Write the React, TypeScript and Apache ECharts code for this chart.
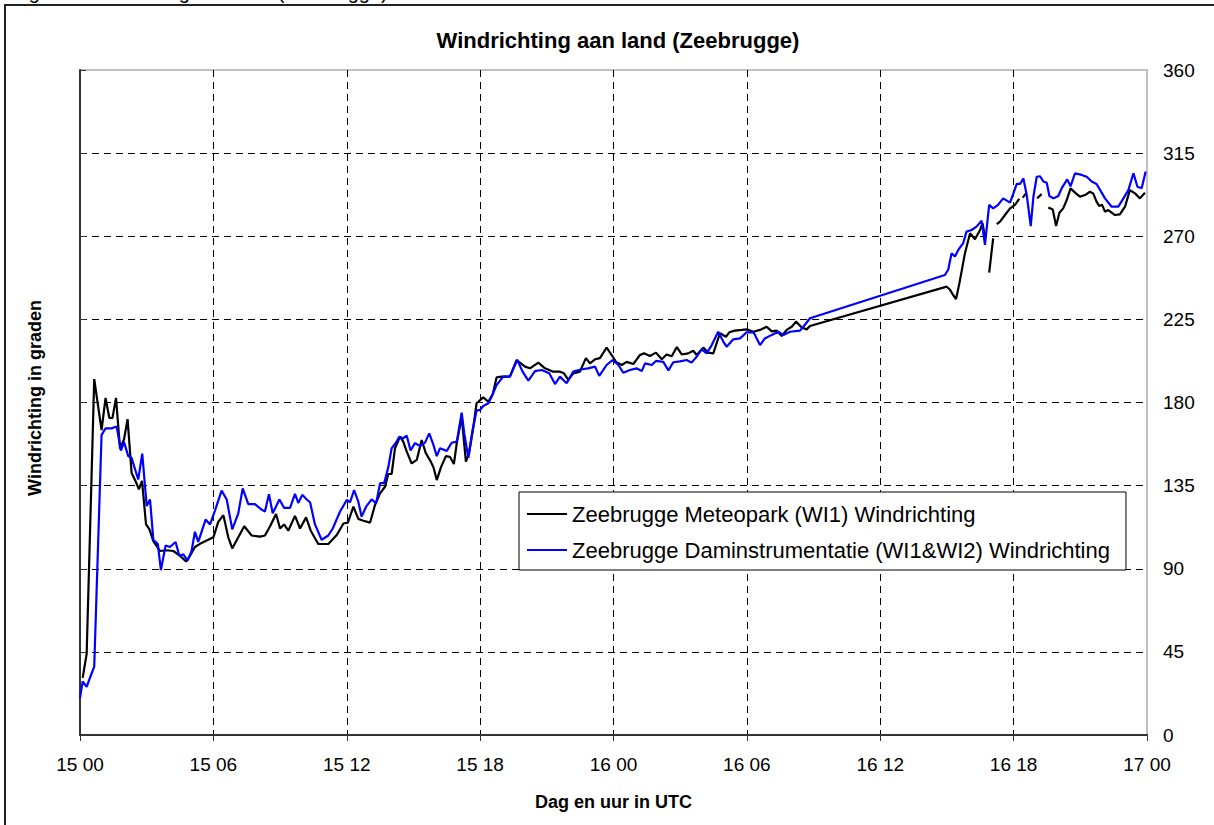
import React, { useEffect, useRef } from "react";
import * as echarts from "echarts";

const titleText = "Windrichting aan land (Zeebrugge)";
const captionText = "Figuur: Windrichting aan land (Zeebrugge)";
const xAxisName = "Dag en uur in UTC";
const yAxisName = "Windrichting in graden";
const xTickLabels = ["15 00", "15 06", "15 12", "15 18", "16 00", "16 06", "16 12", "16 18", "17 00"];
const seriesNames = [
  "Zeebrugge Meteopark (WI1) Windrichting",
  "Zeebrugge Daminstrumentatie (WI1&WI2) Windrichting",
];

// hours since 15 00 UTC
const meteoHours = [
  0.12, 0.3, 0.64, 0.97, 1.15, 1.32, 1.46, 1.62, 1.8, 1.98, 2.14, 2.32, 2.55, 2.65, 2.79, 2.97, 3.12, 3.3, 3.6, 3.9,
  4.2, 4.5, 4.77, 4.95, 5.17, 5.47, 5.77, 6.0, 6.22, 6.45, 6.67, 6.85, 7.12, 7.39, 7.72, 8.1, 8.32, 8.55, 8.82, 9.0,
  9.18, 9.37, 9.67, 9.9, 10.17, 10.38, 10.72, 11.17, 11.55, 11.85, 12.05, 12.3, 12.52, 12.75, 13.05, 13.27, 13.5, 13.72, 13.87, 14.02,
  14.17, 14.4, 14.54, 14.7, 14.92, 15.15, 15.37, 15.56, 15.78, 15.9, 16.05, 16.24, 16.46, 16.64, 16.82, 16.95, 17.17, 17.36, 17.5, 17.7,
  17.84, 18.14, 18.37, 18.57, 18.74, 18.97, 19.34, 19.64, 20.02, 20.24, 20.62, 20.92, 21.29, 21.59, 21.77, 21.97, 22.19, 22.49, 22.76, 22.94,
  23.17, 23.39, 23.69, 23.92, 24.11, 24.37, 24.59, 24.89, 25.19, 25.37, 25.64, 25.91, 26.17, 26.39, 26.62, 26.85, 27.07, 27.36, 27.59, 27.74,
  28.04, 28.26, 28.49, 28.79, 29.06, 29.21, 29.46, 29.77, 29.99, 30.29, 30.59, 30.89, 31.12, 31.34, 31.57, 31.79, 32.02, 32.21, 32.47, 32.69,
  32.84, 38.99, 39.14, 39.28, 39.41, 39.56, 39.81, 40.04, 40.26, 40.49, 40.6, 40.72, 40.8, 40.9, 41.08, 41.16, 41.24, 41.39, 41.61, 41.84,
  42.06, 42.25, 42.33, 42.41, 42.56, 42.8, 43.06, 43.26, 43.4, 43.56, 43.76, 43.91, 44.06, 44.23, 44.39, 44.56, 44.76, 44.98, 45.21, 45.43,
  45.58, 45.73, 45.85, 45.98, 46.11, 46.26, 46.56, 46.78, 47.01, 47.23, 47.46, 47.68, 47.91,
];
const meteoValues: (number | null)[] = [
  30.9, 44, 192.7, 165, 182.5, 171.6, 171.6, 182.5, 155, 160, 171, 142, 136, 133, 137.6, 114, 111.5, 105, 99.6, 100,
  99.6, 97, 93.9, 97, 101.8, 104, 105.7, 107, 115.4, 119, 107, 101, 107, 113, 108, 107.4, 108, 113, 119.6, 111.8,
  114, 110.6, 118.6, 111.8, 117.8, 110.6, 103.4, 103.4, 108.3, 114.5, 115, 123.6, 117, 116, 115, 124.5, 130.8, 134.4, 141.3, 141.3,
  155.2, 161.5, 158.8, 153.4, 147, 148.9, 159.7, 152.5, 148, 145, 138, 145, 151, 150.6, 146.7, 158, 172.3, 148, 152.5, 167,
  179.6, 182.8, 180.4, 184.6, 193.6, 194, 194, 203, 199.4, 198.5, 201.6, 198.5, 196.7, 196.7, 195.8, 192.2, 195.8, 196.7, 204, 201.2,
  203.4, 204, 209.7, 205.7, 202, 200.3, 202, 200.8, 205.7, 206.6, 205.2, 207, 203.4, 206, 205, 210, 206, 206.6, 208, 205.7,
  209.7, 207, 206.6, 217.5, 215.6, 218, 218.9, 219.3, 219.6, 218.3, 219.3, 221, 218.5, 218.9, 216, 219.3, 221, 223.8, 220.6, 219.6,
  221.4, 242.7, 241, 238.2, 236, 244.5, 260.8, 271.6, 268.4, 273.4, 277, 269, null, 250.3, 268.9, null, 276.6, 277.9, 281.5, 285.1,
  287, 290.2, null, 290.9, 293.2, null, 290.5, 292.9, null, 285.6, 284.5, 275.5, 282.7, 285.1, 289.6, 295.9, 293.6, 291.4, 292.3, 294.1,
  293.2, 288.7, 286.4, 287, 283.3, 284.2, 281.5, 281.8, 286, 295, 293.2, 290.5, 293.6,
];

const damHours = [
  0, 0.12, 0.3, 0.45, 0.64, 0.97, 1.15, 1.42, 1.65, 1.84, 1.98, 2.17, 2.32, 2.62, 2.8, 3.0, 3.15, 3.3, 3.5, 3.64,
  3.85, 4.05, 4.3, 4.47, 4.65, 4.84, 5.02, 5.17, 5.32, 5.65, 5.85, 6.07, 6.37, 6.6, 6.85, 7.12, 7.32, 7.57, 7.87, 8.17,
  8.32, 8.5, 8.67, 8.97, 9.18, 9.45, 9.67, 9.82, 10.0, 10.2, 10.35, 10.57, 10.87, 11.17, 11.37, 11.7, 12.0, 12.15, 12.33, 12.52,
  12.67, 12.87, 13.12, 13.32, 13.5, 13.68, 13.87, 14.02, 14.24, 14.36, 14.52, 14.7, 14.87, 15.07, 15.3, 15.52, 15.71, 15.9, 16.05, 16.19,
  16.5, 16.72, 16.95, 17.17, 17.29, 17.47, 17.66, 17.84, 18.0, 18.14, 18.37, 18.52, 18.74, 19.04, 19.34, 19.67, 19.91, 20.17, 20.47, 20.77,
  21.11, 21.37, 21.59, 21.89, 22.19, 22.57, 22.86, 23.17, 23.36, 23.69, 23.96, 24.22, 24.44, 24.74, 25.04, 25.27, 25.42, 25.72, 25.91, 26.24,
  26.47, 26.69, 26.99, 27.29, 27.51, 27.74, 27.97, 28.19, 28.42, 28.71, 28.94, 29.09, 29.39, 29.69, 29.99, 30.3, 30.59, 30.81, 31.12, 31.41,
  31.64, 31.94, 32.39, 32.54, 32.84, 38.91, 39.06, 39.21, 39.36, 39.51, 39.73, 39.88, 40.11, 40.33, 40.56, 40.71, 40.9, 41.08, 41.3, 41.53,
  41.84, 41.99, 42.14, 42.29, 42.44, 42.59, 42.77, 42.89, 43.04, 43.19, 43.34, 43.49, 43.61, 43.79, 44.01, 44.16, 44.41, 44.56, 44.76, 45.06,
  45.29, 45.51, 45.73, 45.96, 46.11, 46.41, 46.71, 46.94, 47.16, 47.39, 47.57, 47.76, 47.94,
];
const damValues = [
  20, 29, 26, 31, 37, 162.5, 166, 166, 167, 154, 158.6, 151, 150, 138.3, 152.3, 124, 127.5, 105.7, 103.4, 89.3,
  102.6, 101.8, 104.5, 97, 97.8, 94.4, 99.6, 110, 104.5, 116.6, 114, 121.4, 132.3, 127.5, 111.3, 120, 133.5, 125, 125, 122,
  121, 130.4, 120, 127.5, 123, 123, 130.5, 125.6, 130, 127.5, 126, 114, 105.7, 108, 111.8, 121, 127.2, 126, 132.6, 126.3,
  118.2, 123.6, 127.6, 125.4, 136.3, 136.3, 145, 155.2, 158.8, 161.5, 160.5, 162, 154, 158, 156.5, 158.3, 163.3, 157, 151, 155.2,
  153.8, 158.2, 158.8, 174.5, 163, 150.1, 165, 175.6, 176, 178.1, 179.6, 183.2, 189.5, 194, 194, 203, 196.7, 191.8, 197, 197.6,
  195.8, 190, 194, 190.4, 196.7, 198, 198.5, 199.4, 194.4, 200.3, 203, 200.3, 196.1, 197.6, 198.5, 197, 201.2, 200.3, 202.5, 202,
  197.4, 201.8, 202.3, 203, 201.6, 204.8, 208.8, 206.6, 211.1, 218.3, 213, 210.2, 214.2, 214.7, 218, 218, 211.1, 214.7, 216.6, 218.3,
  216.6, 218.3, 218.9, 221, 225.6, 249, 252, 260.8, 259, 262.6, 266.2, 272.5, 273.4, 275.2, 278.4, 265.3, 287, 285.1, 287, 290.5,
  288.2, 293.2, 298.3, 298.3, 301.3, 292.3, 275.5, 291.4, 302.2, 302.5, 299.6, 299, 291.8, 290.5, 291.8, 295.9, 300.8, 297, 304.1, 303.2,
  302.2, 299.6, 298.3, 293.6, 290.5, 286, 286, 290.5, 295, 304.1, 296.8, 296, 305,
];

const FONT = '"Liberation Sans", Arial, sans-serif';

export default function App() {
  const ref = useRef<HTMLDivElement>(null);
  useEffect(() => {
    document.body.style.margin = "0";
    const chart = echarts.init(ref.current!, null, { renderer: "svg" });
    const meteoData = meteoHours.map((h, i) => [h, meteoValues[i] === null ? "-" : meteoValues[i]]);
    const damData = damHours.map((h, i) => [h, damValues[i]]);
    chart.setOption({
      animation: false,
      backgroundColor: "#ffffff",
      textStyle: { fontFamily: FONT },
      title: {
        text: titleText,
        left: 613,
        top: 24,
        textAlign: "center",
        textStyle: { fontFamily: FONT, fontSize: 22, fontWeight: "bold", color: "#000" },
      },
      graphic: [
        {
          type: "rect",
          shape: { x: 5, y: 5, width: 1225, height: 835 },
          style: { fill: "none", stroke: "#222", lineWidth: 2 },
          silent: true,
        },
        {
          type: "text",
          x: 12,
          y: 2,
          style: {
            text: captionText,
            font: `20px ${FONT}`,
            fill: "#000",
            verticalAlign: "bottom",
          },
          silent: true,
        },
        {
          type: "text",
          x: 35,
          y: 398,
          rotation: Math.PI / 2,
          style: {
            text: yAxisName,
            font: `bold 18px ${FONT}`,
            fill: "#000",
            align: "center",
            verticalAlign: "middle",
          },
          silent: true,
        },
      ],
      legend: {
        orient: "vertical",
        left: 519,
        top: 492,
        padding: [11, 16, 9, 8],
        itemGap: 14,
        itemWidth: 40,
        itemHeight: 2,
        icon: "rect",
        backgroundColor: "#fff",
        borderColor: "#000",
        borderWidth: 1,
        borderRadius: 0,
        textStyle: { fontFamily: FONT, fontSize: 22, color: "#000" },
        data: seriesNames,
      },
      grid: {
        left: 80,
        right: 67,
        top: 70,
        bottom: 90,
        show: true,
        borderColor: "#c0c0c0",
        borderWidth: 2,
        backgroundColor: "#fff",
      },
      xAxis: {
        type: "value",
        min: 0,
        max: 48,
        interval: 6,
        name: xAxisName,
        nameLocation: "middle",
        nameGap: 58,
        nameTextStyle: { fontFamily: FONT, fontSize: 18, fontWeight: "bold", color: "#000" },
        axisLine: { show: true, onZero: false, lineStyle: { color: "#333", width: 2 } },
        axisTick: { show: true, inside: false, length: 6, lineStyle: { color: "#333", width: 1 } },
        axisLabel: {
          margin: 20,
          fontFamily: FONT,
          fontSize: 19,
          color: "#000",
          formatter: (v: number) => xTickLabels[Math.round(v / 6)] ?? "",
        },
        splitLine: {
          show: true,
          showMinLine: false,
          showMaxLine: false,
          lineStyle: { color: "#000", width: 1, type: [7, 5] },
        },
      },
      yAxis: {
        type: "value",
        position: "right",
        min: 0,
        max: 360,
        interval: 45,
        axisLine: { show: true, lineStyle: { color: "#333", width: 2 } },
        axisTick: { show: true, inside: false, length: 6, lineStyle: { color: "#333", width: 1 } },
        axisLabel: { margin: 16, fontFamily: FONT, fontSize: 19, color: "#000", align: "left" },
        splitLine: {
          show: true,
          showMinLine: false,
          showMaxLine: false,
          lineStyle: { color: "#000", width: 1, type: [7, 5] },
        },
      },
      series: [
        {
          name: seriesNames[0],
          type: "line",
          data: meteoData,
          showSymbol: false,
          connectNulls: false,
          color: "#000000",
          lineStyle: { color: "#000000", width: 2.2 },
          z: 2,
        },
        {
          name: seriesNames[1],
          type: "line",
          data: damData,
          showSymbol: false,
          color: "#0000ff",
          lineStyle: { color: "#0000ff", width: 2.2 },
          z: 3,
        },
      ],
    });
    return () => chart.dispose();
  }, []);
  return (
    <div
      ref={ref}
      style={{ position: "absolute", left: 0, top: 0, width: 1214, height: 825 }}
    />
  );
}
